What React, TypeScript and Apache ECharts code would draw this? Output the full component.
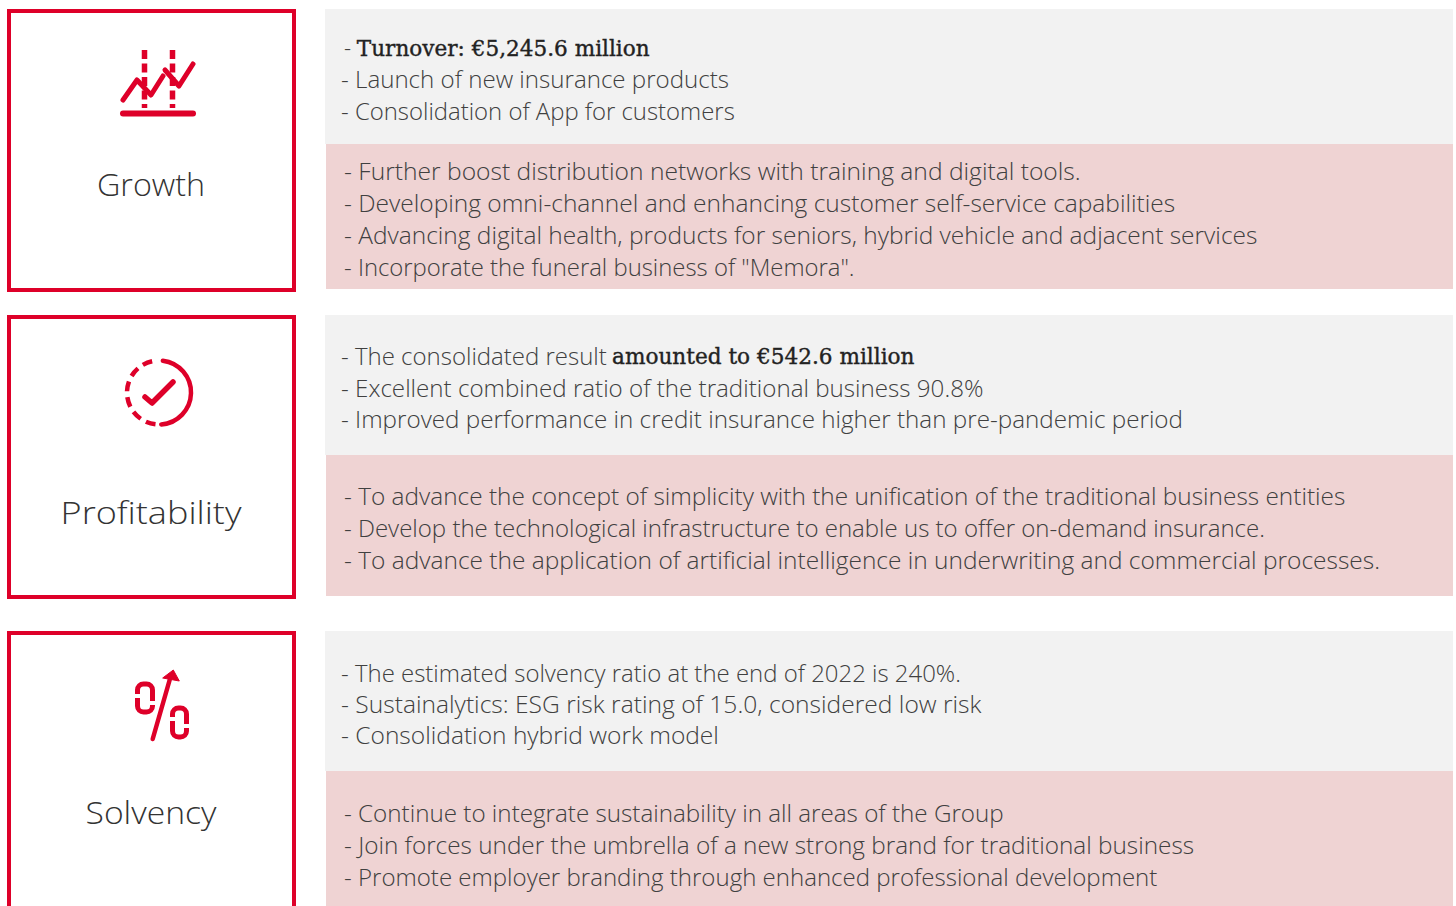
import React, { useEffect, useRef } from "react";
import * as echarts from "echarts";

const RED = "#de0029";
const TEXT = "#404040";
const SANS = "Open Sans";
const SERIF = "DejaVu Serif";

const labels = ["Growth", "Profitability", "Solvency"];
const labelY = [184, 512, 812];
const labelWidths = [108, 181, 131];
const boxes = [[9, 283], [315, 284], [631, 300]];
const greyPanels = [[9, 135], [315, 140], [631, 140]];
const pinkPanels = [[144, 145], [455, 141], [771, 140]];

// row: left, middle y, right edge, segments (a leading "*" marks bold)
const greyLines = [
  [[344, 47.5, 650, ["- ", "*Turnover: €5,245.6 million"]], [341, 79, 729, ["- Launch of new insurance products"]], [341, 111, 735, ["- Consolidation of App for customers"]]],
  [[341, 356, 607, ["- The consolidated result"]], [612, 355.5, 915, ["*amounted to €542.6 million"]], [341, 388, 984, ["- Excellent combined ratio of the traditional business 90.8%"]], [341, 419, 1183, ["- Improved performance in credit insurance higher than pre-pandemic period"]]],
  [[341, 673, 961, ["- The estimated solvency ratio at the end of 2022 is 240%."]], [341, 704, 981, ["- Sustainalytics: ESG risk rating of 15.0, considered low risk"]], [341, 735, 719, ["- Consolidation hybrid work model"]]],
];
const pinkLines = [
  [[344, 171, 1081, ["- Further boost distribution networks with training and digital tools."]], [344, 203, 1175, ["- Developing omni-channel and enhancing customer self-service capabilities"]], [344, 235, 1258, ["- Advancing digital health, products for seniors, hybrid vehicle and adjacent services"]], [344, 267, 855, ['- Incorporate the funeral business of "Memora".']]],
  [[344, 496, 1346, ["- To advance the concept of simplicity with the unification of the traditional business entities"]], [344, 528, 1265, ["- Develop the technological infrastructure to enable us to offer on-demand insurance."]], [344, 560, 1380, ["- To advance the application of artificial intelligence in underwriting and commercial processes."]]],
  [[344, 813, 1004, ["- Continue to integrate sustainability in all areas of the Group"]], [344, 845, 1194, ["- Join forces under the umbrella of a new strong brand for traditional business"]], [344, 877, 1157, ["- Promote employer branding through enhanced professional development"]]],
];

echarts.graphic.registerShape(
  "percentRings",
  echarts.graphic.extendPath(
    "M137.5 694 V690 A6 6 0 0 1 143.5 684 H146.5 A6 6 0 0 1 152.5 690 V701 M152.5 705 V706 A6 6 0 0 1 146.5 712 H143.5 A6 6 0 0 1 137.5 706 V698 M172.5 717 V714 A6 6 0 0 1 178.5 708 H180.5 A6 6 0 0 1 186.5 714 V724 M186.5 728 V731 A6 6 0 0 1 180.5 737 H178.5 A6 6 0 0 1 172.5 731 V721",
    {}
  )
);

const line = (pts: number[][], w: number, dash?: number[]) => ({
  type: "polyline",
  shape: { points: pts },
  style: { stroke: RED, lineWidth: w, fill: "none", lineCap: dash ? "butt" : "round", lineJoin: "round", lineDash: dash },
});

const measure = (style: any) => new echarts.graphic.Text({ style }).getBoundingRect().width;

function textEl(row: any) {
  const [x, y, right, segs] = row;
  const text = segs.map((s: string) => (s[0] === "*" ? `{b|${s.slice(1)}}` : `{n|${s}}`)).join("");
  const style = {
    text,
    verticalAlign: "middle",
    align: "left",
    rich: {
      n: { fontFamily: SANS, fontWeight: 300, fontSize: 23.4, fill: TEXT },
      b: { fontFamily: SERIF, fontWeight: 400, fontSize: 23, fill: "#222", stroke: "#222", lineWidth: 0.4 },
    },
  };
  return { type: "text", x, y, scaleX: (right - x) / measure(style), style };
}

export default function App() {
  const ref = useRef<HTMLDivElement>(null);
  useEffect(() => {
    const chart = echarts.init(ref.current!, undefined, { renderer: "svg" });
    const els: any[] = [];
    greyPanels.forEach(([y, h]) => els.push({ type: "rect", shape: { x: 325, y, width: 1128, height: h }, style: { fill: "#f2f2f2" } }));
    pinkPanels.forEach(([y, h]) => els.push({ type: "rect", shape: { x: 326, y, width: 1127, height: h }, style: { fill: "#efd3d3" } }));
    boxes.forEach(([y, h]) => els.push({ type: "rect", shape: { x: 9, y: y + 2, width: 285, height: h - 4 }, style: { fill: "#fff", stroke: RED, lineWidth: 4 } }));
    labels.forEach((t, i) => {
      const style = { text: t, align: "center", verticalAlign: "middle", fontFamily: SANS, fontWeight: 300, fontSize: 32, fill: "#333" };
      els.push({ type: "text", x: 151, y: labelY[i], scaleX: labelWidths[i] / measure(style), style });
    });
    greyLines.flat().forEach((r) => els.push(textEl(r)));
    pinkLines.flat().forEach((r) => els.push(textEl(r)));

    // Growth icon
    els.push(line([[144.5, 50], [144.5, 108]], 5.5, [9, 4.5]));
    els.push(line([[172.5, 50], [172.5, 108]], 5.5, [9, 4.5]));
    els.push(line([[123, 100], [137, 80], [151, 95], [163, 76]], 5));
    els.push(line([[165, 70], [179, 86], [193, 64]], 5));
    els.push(line([[123, 113.5], [193, 113.5]], 6));

    // Profitability icon
    els.push({ type: "arc", shape: { cx: 159, cy: 392.5, r: 32, startAngle: -1.45, endAngle: 1.5, clockwise: true }, style: { stroke: RED, lineWidth: 4.5, fill: "none", lineCap: "round" } });
    els.push({ type: "arc", shape: { cx: 159, cy: 392.5, r: 32, startAngle: 1.68, endAngle: 4.65, clockwise: true }, style: { stroke: RED, lineWidth: 4.5, fill: "none", lineDash: [10, 6] } });
    els.push(line([[145, 397], [152, 403], [173, 382]], 5.5));

    // Solvency icon
    els.push({ type: "percentRings", x: 0, y: 0, style: { stroke: RED, lineWidth: 5, fill: "none" } });
    els.push(line([[152.7, 739], [170.5, 677]], 4.5));
    els.push({ type: "polygon", shape: { points: [[162.7, 678], [173.3, 670], [179.3, 681]] }, style: { fill: RED, stroke: RED, lineWidth: 1 } });

    chart.setOption({ animation: false, graphic: { elements: els } });
    return () => chart.dispose();
  }, []);
  return (
    <div style={{ position: "fixed", left: 0, top: 0, width: 1456, height: 906, overflow: "hidden", background: "#fff" }}>
      <div ref={ref} style={{ width: 1456, height: 906 }} />
    </div>
  );
}
